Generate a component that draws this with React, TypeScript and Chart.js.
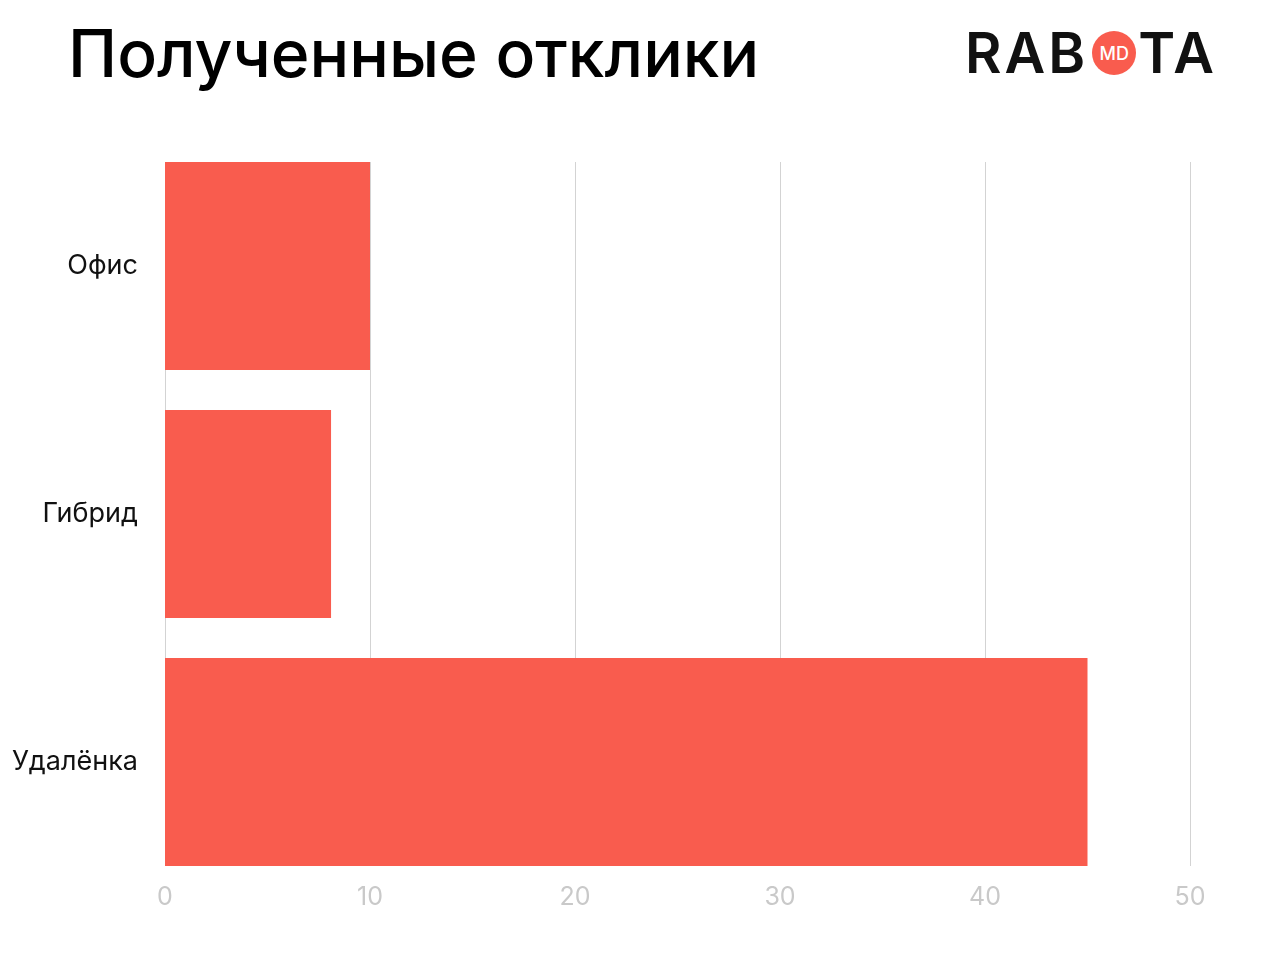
import React, { useEffect, useRef } from "react";
import { Chart, registerables } from "chart.js";

Chart.register(...registerables);

const title = "Полученные отклики";
const categories = ["Офис", "Гибрид", "Удалёнка"];
const values = [10, 8.1, 45];
const xTickValues = [0, 10, 20, 30, 40, 50];

const barColor = "#F95C4E";
const gridColor = "#D3D3D3";
const tickColor = "#C9C9C9";

const gridPlugin = {
  id: "barSpanGrid",
  beforeDatasetsDraw(chart: any) {
    const meta = chart.getDatasetMeta(0);
    const bars = meta.data;
    if (!bars.length) return;
    const first = bars[0].getProps(["y", "height"], true);
    const last = bars[bars.length - 1].getProps(["y", "height"], true);
    const top = first.y - first.height / 2;
    const bottom = last.y + last.height / 2;
    const xs = chart.scales.x;
    const ctx = chart.ctx;
    ctx.save();
    ctx.strokeStyle = gridColor;
    ctx.lineWidth = 1;
    xTickValues.forEach((v) => {
      const px = Math.round(xs.getPixelForValue(v)) + 0.5;
      ctx.beginPath();
      ctx.moveTo(px, top);
      ctx.lineTo(px, bottom);
      ctx.stroke();
    });
    ctx.restore();
  },
};

function BarChart() {
  const ref = useRef<HTMLCanvasElement | null>(null);
  useEffect(() => {
    if (!ref.current) return;
    const chart = new Chart(ref.current, {
      type: "bar",
      data: {
        labels: categories,
        datasets: [
          {
            data: values,
            backgroundColor: barColor,
            borderWidth: 0,
            categoryPercentage: 1,
            barPercentage: 0.8387,
          },
        ],
      },
      options: {
        indexAxis: "y",
        responsive: false,
        animation: false,
        layout: { padding: { left: 0, right: 90, top: 142, bottom: 0 } },
        plugins: { legend: { display: false }, tooltip: { enabled: false } },
        scales: {
          x: {
            min: 0,
            max: 50,
            border: { display: false },
            grid: { display: false, drawTicks: false },
            afterFit: (s: any) => {
              s.height = 74;
            },
            afterBuildTicks: (s: any) => {
              s.ticks = xTickValues.map((v) => ({ value: v }));
            },
            ticks: {
              color: tickColor,
              padding: -4,
              font: { family: "Inter", size: 25 },
            },
          },
          y: {
            border: { display: false },
            grid: { display: false, drawTicks: false },
            afterFit: (s: any) => {
              s.width = 165;
            },
            ticks: {
              color: "#111111",
              padding: 27,
              font: { family: "Inter", size: 27 },
            },
          },
        },
      },
      plugins: [gridPlugin],
    });
    return () => chart.destroy();
  }, []);
  return (
    <canvas
      ref={ref}
      width={1280}
      height={960}
      style={{ position: "absolute", left: 0, top: 0, width: 1280, height: 960 }}
    />
  );
}

function Logo() {
  const letter: React.CSSProperties = {
    fontFamily: "Inter",
    fontWeight: 600,
    fontSize: 56,
    color: "#111",
    lineHeight: "56px",
    letterSpacing: 3,
  };
  return (
    <div
      style={{
        position: "absolute",
        left: 965,
        top: 25,
        display: "flex",
        alignItems: "center",
        height: 56,
      }}
    >
      <span style={letter}>RAB</span>
      <span
        style={{
          display: "inline-flex",
          alignItems: "center",
          justifyContent: "center",
          width: 44,
          height: 44,
          borderRadius: "50%",
          background: barColor,
          color: "#fff",
          fontFamily: "Inter",
          fontWeight: 500,
          fontSize: 18,
          margin: "0 2px 0 4px",
        }}
      >
        MD
      </span>
      <span style={letter}>TA</span>
    </div>
  );
}

export default function App() {
  return (
    <div
      style={{
        position: "absolute",
        left: 0,
        top: 0,
        width: 1280,
        height: 960,
        background: "#fff",
        overflow: "hidden",
      }}
    >
      <div
        style={{
          position: "absolute",
          left: 68,
          top: 13,
          fontFamily: "Inter",
          fontWeight: 500,
          fontSize: 66,
          color: "#000",
          lineHeight: "80px",
          whiteSpace: "nowrap",
        }}
      >
        {title}
      </div>
      <Logo />
      <BarChart />
    </div>
  );
}
